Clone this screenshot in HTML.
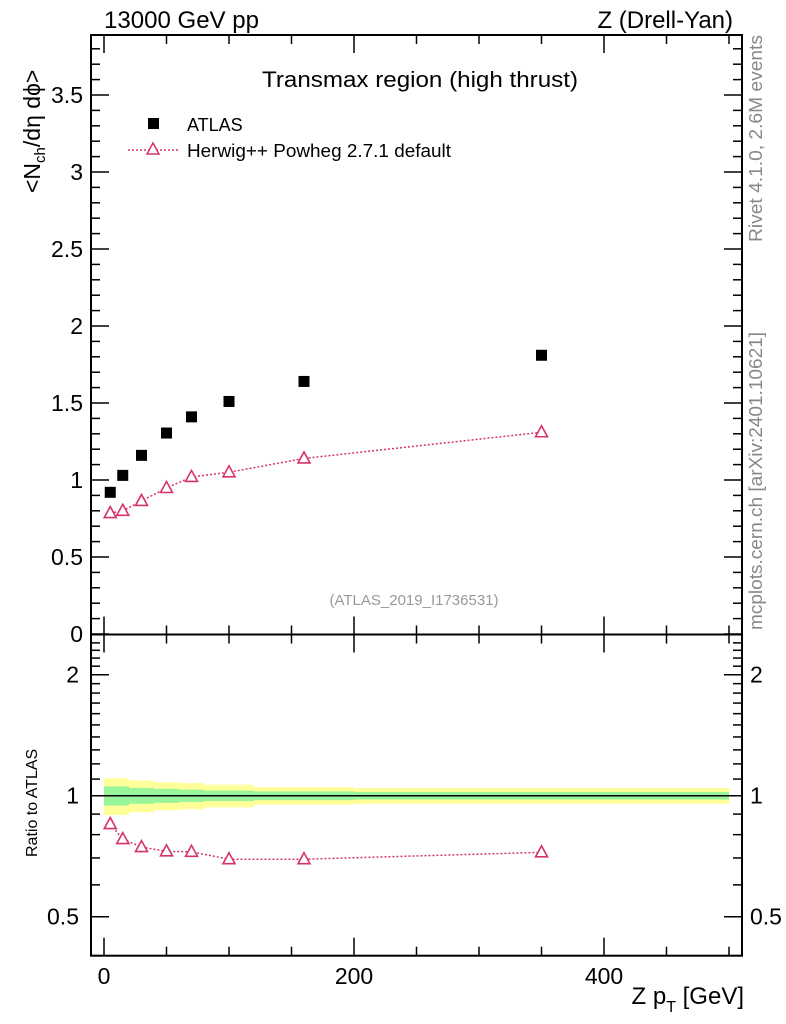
<!DOCTYPE html>
<html><head><meta charset="utf-8"><style>
body{margin:0;background:#fff;}
svg{display:block;font-family:"Liberation Sans",Arial,sans-serif;}
</style></head><body>
<svg id="chart" width="786" height="1024" viewBox="0 0 786 1024" xmlns="http://www.w3.org/2000/svg">
<text x="104" y="28" font-size="24" textLength="155" lengthAdjust="spacingAndGlyphs">13000 GeV pp</text>
<text x="733" y="28" font-size="24" text-anchor="end">Z (Drell-Yan)</text>
<text x="420" y="87" font-size="22" text-anchor="middle" textLength="316" lengthAdjust="spacingAndGlyphs">Transmax region (high thrust)</text>
<text x="414" y="605" font-size="15" fill="#999" text-anchor="middle">(ATLAS_2019_I1736531)</text>
<text transform="translate(762,242) rotate(-90)" font-size="18" fill="#888" textLength="207" lengthAdjust="spacingAndGlyphs">Rivet 4.1.0,  2.6M events</text>
<text transform="translate(762,630) rotate(-90)" font-size="18" fill="#888" textLength="298" lengthAdjust="spacingAndGlyphs">mcplots.cern.ch [arXiv:2401.10621]</text>
<text transform="translate(40,193) rotate(-90)" font-size="23">&lt;N<tspan font-size="15" dy="5">ch</tspan><tspan dy="-5">/dη dϕ&gt;</tspan></text>
<text transform="translate(37,857) rotate(-90)" font-size="16">Ratio to ATLAS</text>
<text x="744" y="1004" font-size="24" text-anchor="end">Z p<tspan font-size="16" dy="8">T</tspan><tspan dy="-8"> [GeV]</tspan></text>
<g>
<rect x="148" y="118" width="11" height="11" fill="#000"/>
<text x="187" y="131" font-size="18">ATLAS</text>
<line x1="128" y1="150" x2="178" y2="150" stroke="#d6336c" stroke-width="1.5" stroke-dasharray="2,2"/>
<path d="M153,143 L159,154 L147,154 Z" fill="#fff" stroke="#d6336c" stroke-width="1.5"/>
<text x="187" y="157" font-size="18" textLength="264" lengthAdjust="spacingAndGlyphs">Herwig++ Powheg 2.7.1 default</text>
</g>
<g id="g"></g>
</svg>
<script>
const xVals=[5,15,30,50,70,100,160,350];
const atlasVals=[0.92,1.03,1.16,1.305,1.41,1.51,1.64,1.81];
const mcVals=[0.785,0.80,0.864,0.948,1.02,1.05,1.14,1.31];
const ratioVals=[0.85,0.78,0.745,0.727,0.725,0.695,0.695,0.723];
const bandEdges=[0,20,40,60,80,120,200,500];
const bandYellow=[0.105,0.09,0.08,0.075,0.065,0.05,0.045];
const bandGreen=[0.055,0.045,0.04,0.035,0.03,0.025,0.022];
const xTicks=[0,200,400];
const yTicks=[0,0.5,1,1.5,2,2.5,3,3.5];
const rTicks=[0.5,1,2];

const L=91,R=742,T=35,M=634.5,B=955.7;
const xs=v=>104+v*1.25;
const ys=v=>634-v*154;
const rs=v=>795.7-Math.log2(v)*121;
const NS="http://www.w3.org/2000/svg";
const g=document.getElementById('g');
function mk(tag,a,parent){const e=document.createElementNS(NS,tag);for(const k in a)e.setAttribute(k,a[k]);(parent||g).appendChild(e);return e;}
function ln(x1,y1,x2,y2,w){return mk('line',{x1,y1,x2,y2,stroke:'#000','stroke-width':w||1.5});}

for(let i=0;i<bandEdges.length-1;i++){
  const x1=xs(bandEdges[i]),x2=xs(bandEdges[i+1]);
  const y=mk('rect',{x:x1,y:rs(1+bandYellow[i]),width:x2-x1,height:rs(1-bandYellow[i])-rs(1+bandYellow[i]),fill:'#ffff99'});
  
  
  const gr=mk('rect',{x:x1,y:rs(1+bandGreen[i]),width:x2-x1,height:rs(1-bandGreen[i])-rs(1+bandGreen[i]),fill:'#99f599'});
  
  
}
const one=ln(xs(0),rs(1),xs(500),rs(1),1.5);



const f1=mk('rect',{x:L,y:T,width:R-L,height:M-T,fill:'none',stroke:'#000','stroke-width':2});


const f2=mk('rect',{x:L,y:M,width:R-L,height:B-M,fill:'none',stroke:'#000','stroke-width':2});



for(let v=0;v<=500;v+=50){
  const big=v%200===0, len=big?18:9;
  const x=xs(v);
  ln(x,T,x,T+len);ln(x,M,x,M-len);ln(x,M,x,M+len);ln(x,B,x,B-len);
}
xTicks.forEach(v=>{const t=mk('text',{x:xs(v),y:984,'font-size':23,'text-anchor':'middle'});t.textContent=v;

});

for(let v=0;v<=3.85;v+=0.1){
  const vv=Math.round(v*10)/10, big=Math.abs(vv*2-Math.round(vv*2))<1e-6, len=big?18:9;
  ln(L,ys(vv),L+len,ys(vv));ln(R,ys(vv),R-len,ys(vv));
}
yTicks.forEach(v=>{const t=mk('text',{x:83,y:ys(v)+8,'font-size':23,'text-anchor':'end'});t.textContent=v;

});

const rMinor=[0.4,0.5,0.6,0.7,0.8,0.9,1,1.1,1.2,1.3,1.4,1.5,1.6,1.7,1.8,1.9,2,2.1,2.2,2.3,2.4];
rMinor.forEach(v=>{const big=rTicks.includes(v),len=big?18:9;const y=rs(v);if(y<M||y>B)return;
  ln(L,y,L+len,y);ln(R,y,R-len,y);});
rTicks.forEach(v=>{const t=mk('text',{x:79,y:rs(v)+8,'font-size':23,'text-anchor':'end'});t.textContent=v;


const t2=mk('text',{x:750,y:rs(v)+8,'font-size':23});t2.textContent=v;

});

const col='#d6336c';
const mcLine=mk('polyline',{points:xVals.map((x,i)=>xs(x)+','+ys(mcVals[i])).join(' '),fill:'none',stroke:col,'stroke-width':1.5,'stroke-dasharray':'2,2'});


const rLine=mk('polyline',{points:xVals.map((x,i)=>xs(x)+','+rs(ratioVals[i])).join(' '),fill:'none',stroke:col,'stroke-width':1.5,'stroke-dasharray':'2,2'});


function tri(x,y,name){const p=mk('path',{d:`M${x},${y-6.5} L${x+6},${y+4.5} L${x-6},${y+4.5} Z`,fill:'#fff',stroke:col,'stroke-width':1.6});

}
xVals.forEach((x,i)=>{
  const r=mk('rect',{x:xs(x)-5.5,y:ys(atlasVals[i])-5.5,width:11,height:11,fill:'#000'});
  
  
  tri(xs(x),ys(mcVals[i]),'mc-point');
  tri(xs(x),rs(ratioVals[i]),'ratio-point');
});
</script>
</body></html>
